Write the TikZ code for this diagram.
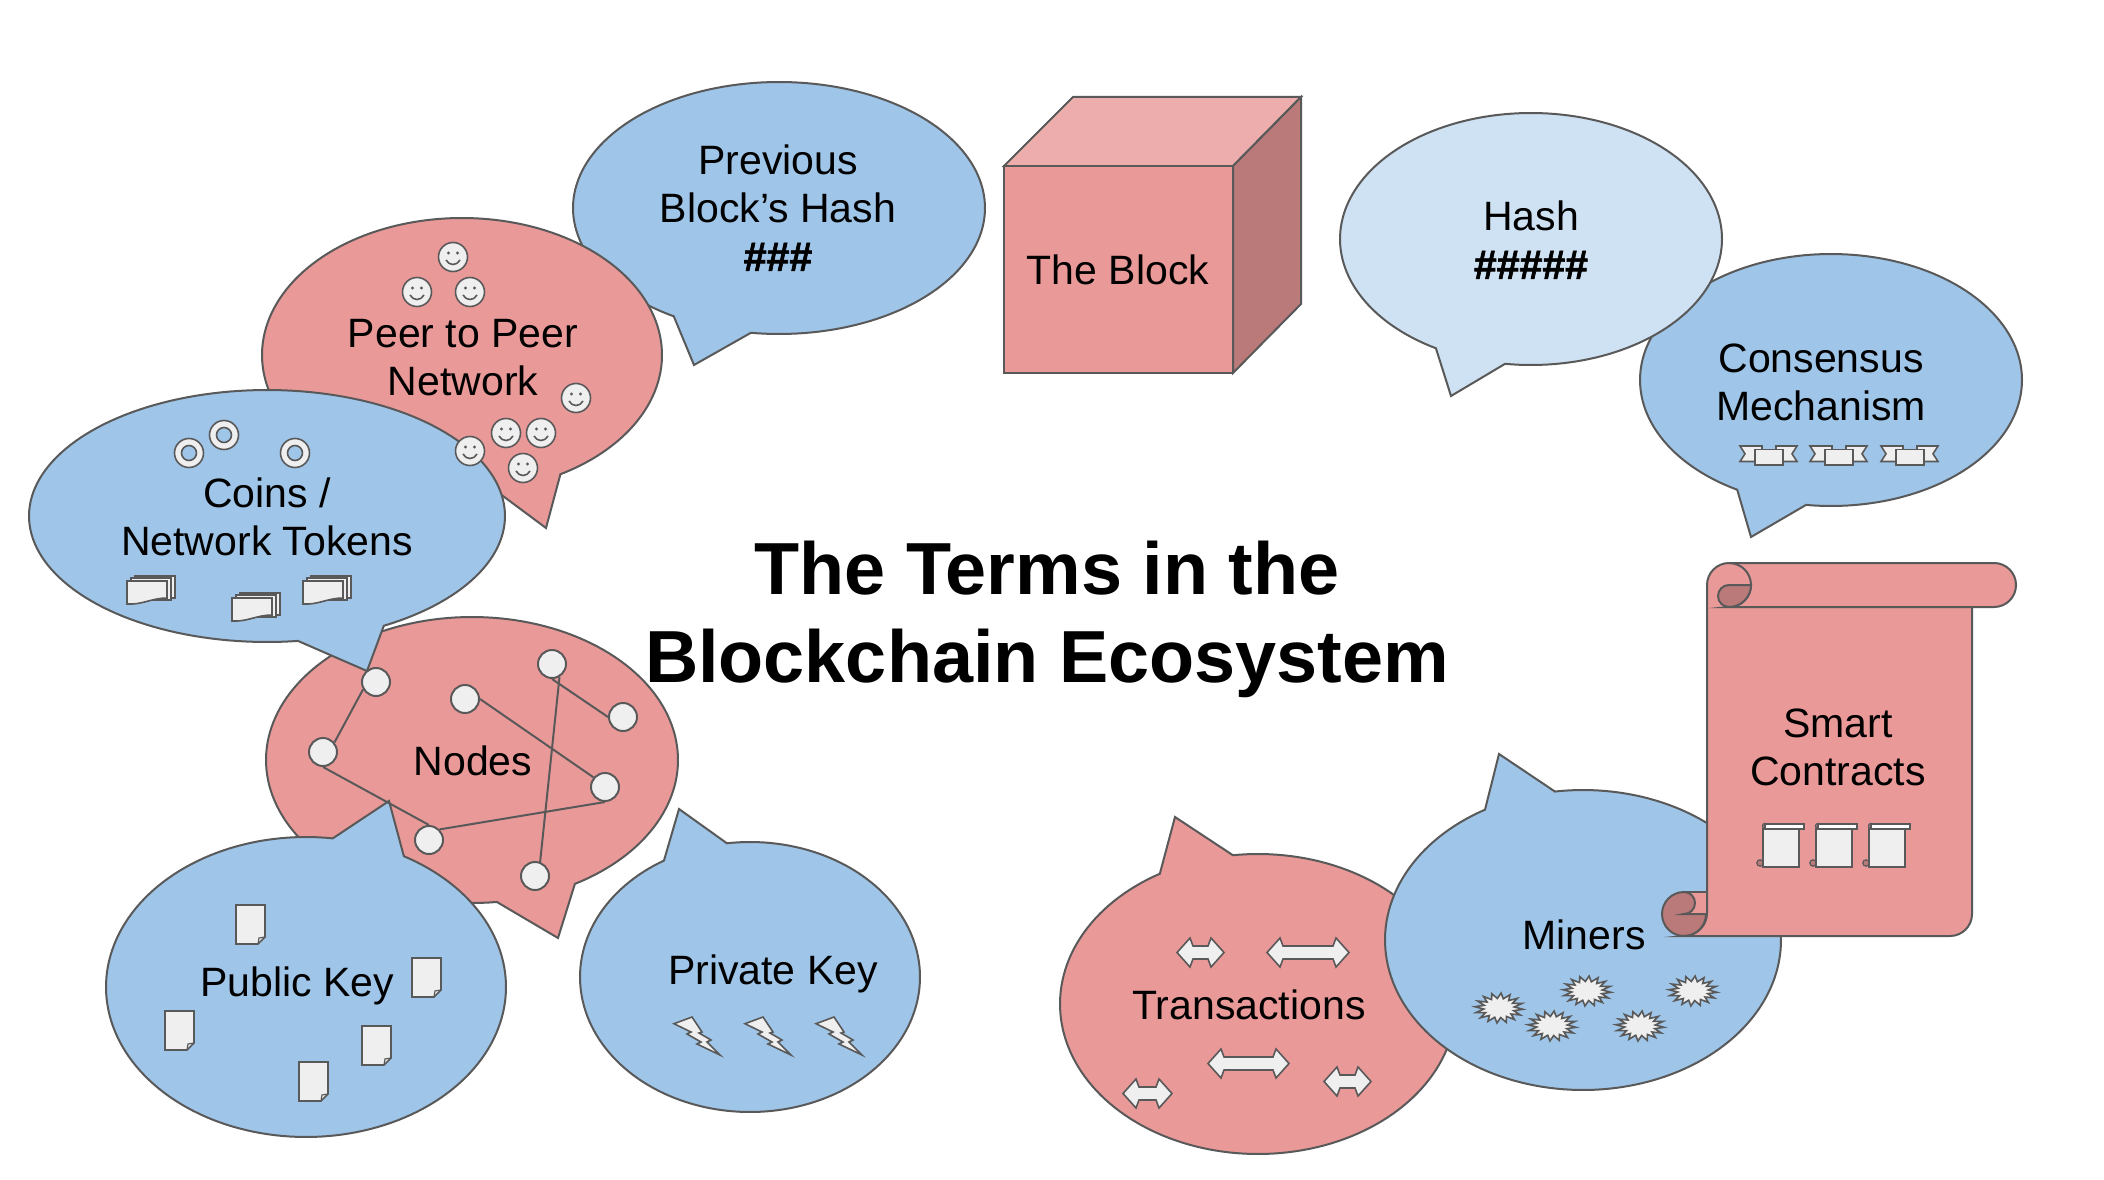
\documentclass[tikz,border=0pt]{standalone}
\usepackage{fontspec}
\setmainfont{Liberation Sans}
\newfontfamily\heavyfont[FakeBold=1.6]{Liberation Sans Bold}
\definecolor{redfill}{HTML}{EA9999}
\definecolor{bluefill}{HTML}{9FC5E8}
\definecolor{palefill}{HTML}{CFE2F3}
\definecolor{iconfill}{HTML}{EFEFEF}
\definecolor{edge}{HTML}{595959}
\definecolor{redlight}{HTML}{EEADAD}
\definecolor{reddark}{HTML}{BB7A7A}
\tikzset{
  outline/.style={draw=edge,line width=2pt,line join=miter,miter limit=30},
  icon/.style={draw=edge,line width=1.6pt,fill=iconfill,line join=miter},
  label/.style={inner sep=0pt,align=center,text=black,font=\fontsize{41}{48}\selectfont},
  titlelabel/.style={inner sep=0pt,align=center,text=black,font=\fontsize{73.8}{88}\selectfont\bfseries},
  netdot/.style={circle,draw=edge,line width=2pt,fill=iconfill,minimum size=28pt,inner sep=0pt},
  netline/.style={draw=edge,line width=2pt}
}
% #1 colour, #2-#5 cx cy rx ry, #6 #7 first tail foot, #8 #9 second tail foot, then {tip}
\def\bubble#1#2#3#4#5#6#7#8#9{%
  \pgfmathsetmacro\angA{atan2((#7-#3)/#5,(#6-#2)/#4)}%
  \pgfmathsetmacro\angB{atan2((#9-#3)/#5,(#8-#2)/#4)}%
  \pgfmathsetmacro\angB{\angB<\angA?\angB+360:\angB}%
  \def\bcol{#1}\def\bcx{#2}\def\bcy{#3}\def\brx{#4}\def\bry{#5}%
  \bubblefinish}
\def\bubblefinish#1{%
  \draw[outline,fill=\bcol] plot[domain=\angA:\angB,samples=160,variable=\t]
    ({\bcx+\brx*cos(\t)},{\bcy+\bry*sin(\t)}) -- (#1) -- cycle;}
\newcommand{\smiley}[2]{\begin{scope}[shift={(#1,#2)}]
  \draw[icon] (0,0) circle[radius=14.5];
  \fill[edge] (-4.5,-4) circle[radius=1.6] (4.5,-4) circle[radius=1.6];
  \draw[edge,line width=1.6pt] (-7,3) .. controls (-4,9) and (4,9) .. (7,3);
\end{scope}}
\newcommand{\coinicon}[2]{\begin{scope}[shift={(#1,#2)}]
  \draw[icon] (0,0) circle[radius=14.5];
  \draw[draw=edge,line width=1.6pt,fill=bluefill] (0,0) circle[radius=7.5];
\end{scope}}
\newcommand{\multidoc}[2]{\begin{scope}[shift={(#1,#2)}]
  \draw[icon] (8,0) rectangle (48,22);
  \draw[icon] (4,2) rectangle (44,24);
  \draw[icon] (0,5) -- (40,5) -- (40,22) .. controls (25,22) and (15,29) .. (0,28) -- cycle;
\end{scope}}
\newcommand{\notedoc}[2]{\begin{scope}[shift={(#1,#2)}]
  \draw[icon] (0,0) -- (29,0) -- (29,32) -- (22,39) -- (0,39) -- cycle;
  \draw[draw=edge,line width=1.2pt] (29,32) -- (23,33) -- (22,39);
\end{scope}}
\newcommand{\bolt}[2]{\begin{scope}[shift={(#1,#2)}]
  \draw[icon] (0,6.7) -- (18,0) -- (28,15) -- (25,16) -- (37,23) -- (33,25) -- (46,38)
     -- (23,27) -- (27,25) -- (13,17) -- (17,15) -- cycle;
\end{scope}}
\newcommand{\ribbon}[2]{\begin{scope}[shift={(#1,#2)}]
  \draw[icon] (0,0) -- (22,0) -- (22,15.5) -- (0,15.5) -- (5,7.8) -- cycle;
  \draw[icon] (57,0) -- (36,0) -- (36,15.5) -- (57,15.5) -- (52,7.8) -- cycle;
  \draw[icon] (15,3.3) rectangle (43,19);
\end{scope}}
\newcommand{\doublearrow}[3]{\begin{scope}[shift={(#1,#2)}]
  \draw[icon] (0,14.5) -- (13,0) -- (16,8) -- (#3-16,8) -- (#3-13,0) -- (#3,14.5)
     -- (#3-13,29) -- (#3-16,21) -- (16,21) -- (13,29) -- cycle;
\end{scope}}
\newcommand{\burst}[2]{%
  \draw[icon] plot[samples at={0,...,31},variable=\t]
   ({#1+24*(mod(\t,2)==0?1:0.64)*cos(\t*11.25+5)},{#2+15*(mod(\t,2)==0?1:0.64)*sin(\t*11.25+5)}) -- cycle;}
\newcommand{\miniscroll}[2]{\begin{scope}[shift={(#1,#2)}]
  \fill[reddark,draw=edge,line width=1.2pt] (3,40) circle[radius=3.2];
  \fill[reddark,draw=edge,line width=1.2pt] (8,3) circle[radius=2.6];
  \draw[icon] (6,6) -- (42,6) -- (42,44) -- (6,44) -- cycle;
  \draw[draw=edge,line width=1.6pt,fill=white] (8,1) -- (47,1) -- (47,6) -- (8,6) -- cycle;
\end{scope}}
\begin{document}
\begin{tikzpicture}[x=1pt,y=-1pt]
\fill[white] (0,0) rectangle (2104,1180);
\path[use as bounding box] (0,0) rectangle (2104,1180);

% speech bubbles, back to front
\bubble{bluefill}{779}{208}{206}{126}{676}{314}{751}{332}{694,365}
\bubble{redfill}{462}{355}{200}{137}{495}{490}{561}{475}{546,528}
\bubble{redfill}{472}{760}{206}{143}{497}{903}{575}{884}{558,938}
\bubble{bluefill}{267}{516}{238}{126}{298}{641}{383}{625}{367,671}
\bubble{bluefill}{306}{987}{200}{150}{404}{856}{333}{837}{389,801}
\bubble{bluefill}{750}{977}{170}{135}{727}{844}{665}{862}{679,809}
\bubble{bluefill}{1831}{380}{191}{126}{1737}{490}{1806}{505}{1751,537}
\bubble{palefill}{1531}{239}{191}{126}{1437}{347}{1505}{364}{1451,396}
\bubble{redfill}{1258}{1004}{198}{150}{1233}{856}{1160}{874}{1175,817}
\bubble{bluefill}{1583}{940}{198}{150}{1555}{792}{1486}{811}{1499,754}

% cube
\draw[outline,fill=redlight] (1004,166) -- (1073,97) -- (1301,97) -- (1233,166) -- cycle;
\draw[outline,fill=reddark] (1233,166) -- (1301,97) -- (1301,304) -- (1233,373) -- cycle;
\draw[outline,fill=redfill] (1004,166) rectangle (1233,373);

% scroll (y axis points down, so arc angles are negated)
\draw[outline,fill=redfill] (1684,892) -- (1707,892) -- (1707,925) -- (1684,925) -- cycle;
\draw[outline,fill=reddark] (1684,892) arc[start angle=-90,end angle=-270,radius=22]
   arc[start angle=-270,end angle=-360,radius=22] -- (1684,914)
   arc[start angle=-270,end angle=-450,radius=11] -- cycle;
\draw[outline,fill=redfill] (1707,585) arc[start angle=-180,end angle=-90,radius=22]
   -- (1994,563) arc[start angle=-90,end angle=90,radius=22] -- (1972,607)
   -- (1972,914) arc[start angle=0,end angle=90,radius=22] -- (1684,936)
   arc[start angle=90,end angle=0,radius=23] -- cycle;
\draw[outline] (1729,563) arc[start angle=-90,end angle=90,radius=22] -- (1972,607);
\draw[outline,fill=reddark] (1729,585) -- (1751,585) arc[start angle=0,end angle=90,radius=22]
   arc[start angle=90,end angle=270,radius=11] -- cycle;

% icons
\foreach \px/\py in {453/257,417/292,470/292,576/398,506/433,541/433,523/468,470/451}{\smiley{\px}{\py}}
\foreach \px/\py in {189/453,224/435,295/453}{\coinicon{\px}{\py}}
\foreach \px/\py in {127/576,232/593,303/576}{\multidoc{\px}{\py}}
\foreach \px/\py in {236/905,412/958,165/1011,362/1026,299/1062}{\notedoc{\px}{\py}}
\foreach \px in {674,745,816}{\bolt{\px}{1017}}
\foreach \px in {1740,1810,1881}{\ribbon{\px}{446}}
\doublearrow{1177}{938}{47}
\doublearrow{1267}{938}{82}
\doublearrow{1208}{1049}{81}
\doublearrow{1123}{1079}{49}
\doublearrow{1324}{1067}{47}
\burst{1499}{1008}\burst{1587}{991}\burst{1693}{991}\burst{1552}{1026}\burst{1640}{1026}
\foreach \px in {1757,1810,1863}{\miniscroll{\px}{823}}

% network
\node[netdot] (n1) at (376,682) {};
\node[netdot] (n2) at (323,752) {};
\node[netdot] (n3) at (465,699) {};
\node[netdot] (n4) at (552,664) {};
\node[netdot] (n5) at (623,717) {};
\node[netdot] (n6) at (605,787) {};
\node[netdot] (n7) at (429,840) {};
\node[netdot] (n8) at (535,876) {};
\draw[netline] (n1.210) -- (n2.40);
\draw[netline] (n2.south) -- (n7.north);
\draw[netline] (n7.north east) -- (n6.south);
\draw[netline] (n3.east) -- (n6.140);
\draw[netline] (n4.south) -- (n5.west);
\draw[netline] (n4.-60) -- (n8.70);

% labels
\node[label] (lprev) at (778,208) {Previous\\Block’s Hash\\{\heavyfont\#\#\#}};
\node[label] (lpeer) at (463,358) {Peer to Peer\\Network};
\node[label] (lcoins) at (267,517) {Coins /\\Network Tokens};
\node[label] (lblock) at (1118,270) {The Block};
\node[label] (lhash) at (1531,240) {Hash\\{\heavyfont\#\#\#\#\#}};
\node[label] (lcons) at (1821,382) {Consensus\\Mechanism};
\node[label] (lsmart) at (1838,747) {Smart\\Contracts};
\node[label] (lminers) at (1584,935) {Miners};
\node[label] (ltrans) at (1249,1005) {Transactions};
\node[label] (lnodes) at (473,761) {Nodes};
\node[label] (lpub) at (297,986) {Public Key};
\node[label] (lpriv) at (773,974) {Private Key};
\node[titlelabel] (ltitle) at (1047,619) {The Terms in the\\Blockchain Ecosystem};
\end{tikzpicture}
\end{document}
